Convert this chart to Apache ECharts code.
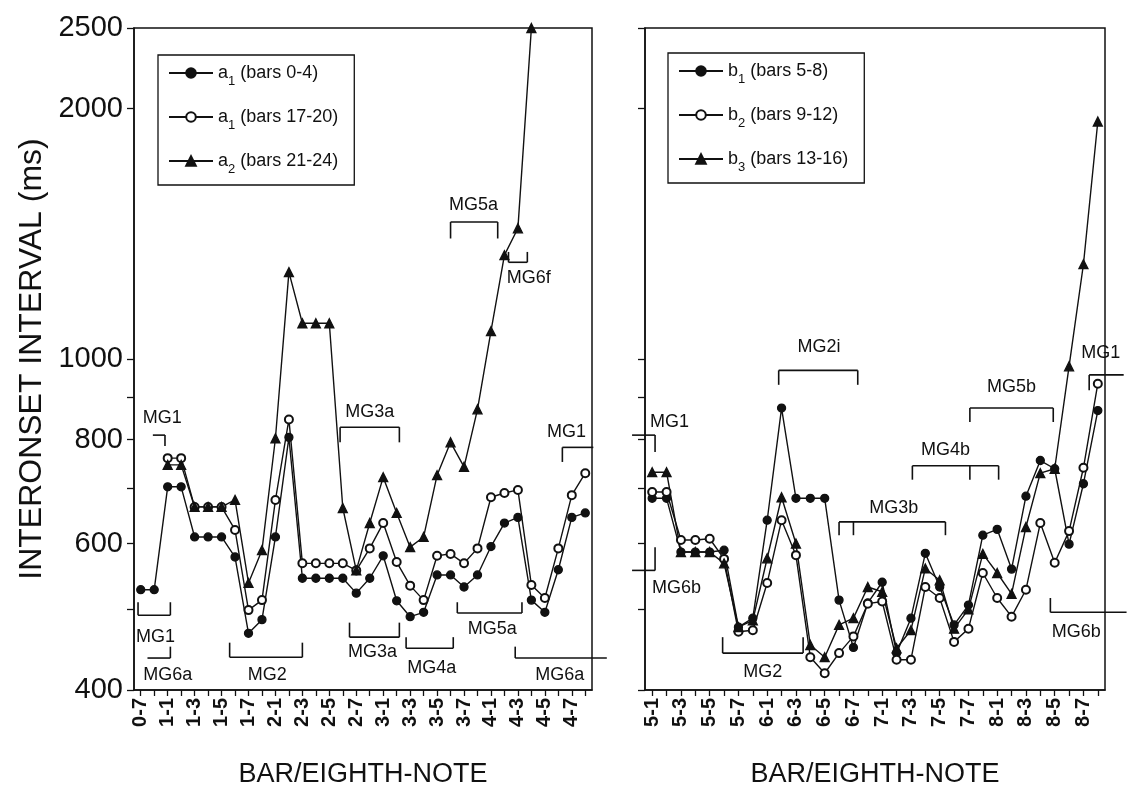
<!DOCTYPE html>
<html>
<head>
<meta charset="utf-8">
<script src="https://cdn.jsdelivr.net/npm/echarts@6/dist/echarts.min.js"></script>
<style>
  html, body { margin: 0; padding: 0; background: #fff; }
  #chart { width: 1129px; height: 789px; }
</style>
</head>
<body>
<div id="chart"></div>
<script>
// ---- categories (bar-eighth note positions) ----
const catsA = ['0-7','0-8',
  '1-1','1-2','1-3','1-4','1-5','1-6','1-7','1-8',
  '2-1','2-2','2-3','2-4','2-5','2-6','2-7','2-8',
  '3-1','3-2','3-3','3-4','3-5','3-6','3-7','3-8',
  '4-1','4-2','4-3','4-4','4-5','4-6','4-7','4-8'];
const catsB = ['5-1','5-2','5-3','5-4','5-5','5-6','5-7','5-8',
  '6-1','6-2','6-3','6-4','6-5','6-6','6-7','6-8',
  '7-1','7-2','7-3','7-4','7-5','7-6','7-7','7-8',
  '8-1','8-2','8-3','8-4','8-5','8-6','8-7','8-8'];

// ---- interonset intervals (ms) ----
const a1Bars0to4 = [528, 528,
  702, 702, 611, 611, 611, 578, 468, 486,
  611, 805, 545, 545, 545, 545, 523, 545,
  580, 512, 490, 496, 550, 550, 532, 550,
  595, 635, 645, 513, 496, 558, 645, 653];
const a1Bars17to20 = ['-', '-',
  760, 760, 664, 664, 664, 623, 499, 513,
  677, 846, 568, 568, 568, 568, 557, 592,
  635, 570, 534, 513, 580, 583, 568, 592,
  682, 690, 696, 535, 516, 592, 686, 729];
const a2Bars21to24 = ['-', '-',
  746, 746, 664, 664, 664, 677, 538, 589,
  803, 1272, 1104, 1104, 1104, 662, 557, 635,
  721, 653, 594, 611, 725, 794, 742, 870,
  1080, 1333, 1436, 2500, '-', '-', '-', '-'];

const b1Bars5to8 = [680, 680, 586, 586, 586, 589, 476, 488,
  640, 873, 680, 680, 680, 513, 450, 509,
  539, 443, 488, 584, 532, 479, 506, 614,
  624, 559, 684, 755, 738, 599, 708, 867];
const b2Bars9to12 = [692, 692, 606, 606, 608, 575, 470, 472,
  538, 640, 581, 438, 419, 443, 464, 508,
  511, 435, 435, 532, 516, 457, 474, 553,
  516, 490, 528, 635, 569, 621, 740, 934];
const b3Bars13to16 = [731, 731, 586, 586, 586, 568, 476, 485,
  576, 682, 600, 453, 438, 479, 488, 532,
  525, 449, 472, 560, 542, 474, 500, 583,
  553, 522, 628, 729, 738, 980, 1300, 1930];

// ---- axis ticks ----
const yTickValues = [400, 500, 600, 700, 800, 900, 1000, 2000, 2500];
const yLabelValues = [400, 600, 800, 1000, 2000, 2500];

// ---- melodic-gesture brackets: x in category index units, y in ms ----
const gesturesA = [
  { label: 'MG1',  x1: 0.9,  x2: 1.8,  y: 810,  ticks: [1.8],        tickTo: 786, lx: 1.6,  ly: 850 },
  { label: 'MG1',  x1: -0.2, x2: 2.2,  y: 492,  ticks: [-0.2, 2.2],  tickTo: 510, lx: 1.1,  ly: 463 },
  { label: 'MG6a', x1: 0.5,  x2: 2.2,  y: 437,  ticks: [2.2],        tickTo: 451, lx: 2.0,  ly: 417 },
  { label: 'MG2',  x1: 6.6,  x2: 12.0, y: 438,  ticks: [6.6, 12.0],  tickTo: 456, lx: 9.4,  ly: 417 },
  { label: 'MG3a', x1: 14.8, x2: 19.2, y: 828,  ticks: [14.8, 19.2], tickTo: 794, lx: 17.0, ly: 863 },
  { label: 'MG3a', x1: 15.5, x2: 19.2, y: 463,  ticks: [15.5, 19.2], tickTo: 482, lx: 17.2, ly: 444 },
  { label: 'MG4a', x1: 19.7, x2: 23.2, y: 449,  ticks: [19.7, 23.2], tickTo: 463, lx: 21.6, ly: 425 },
  { label: 'MG5a', x1: 23.5, x2: 28.3, y: 495,  ticks: [23.5, 28.3], tickTo: 510, lx: 26.1, ly: 474 },
  { label: 'MG6a', x1: 27.8, x2: 34.6, y: 437,  ticks: [27.8],       tickTo: 451, lx: 31.1, ly: 417 },
  { label: 'MG5a', x1: 23.0, x2: 26.5, y: 1461, ticks: [23.0, 26.5], tickTo: 1396, lx: 24.7, ly: 1533 },
  { label: 'MG6f', x1: 27.3, x2: 28.7, y: 1307, ticks: [27.3, 28.7], tickTo: 1345, lx: 28.8, ly: 1250 },
  { label: 'MG1',  x1: 31.3, x2: 33.6, y: 783,  ticks: [31.3],       tickTo: 752, lx: 31.6, ly: 817 }
];
const gesturesB = [
  { label: 'MG1',  x1: -1.4, x2: 0.2,  y: 810,  ticks: [0.2],        tickTo: 773, lx: 1.2,  ly: 840 },
  { label: 'MG6b', x1: -1.4, x2: 0.2,  y: 557,  ticks: [0.2],        tickTo: 594, lx: 1.7,  ly: 530 },
  { label: 'MG2',  x1: 4.9,  x2: 10.5, y: 443,  ticks: [4.9, 10.5],  tickTo: 463, lx: 7.7,  ly: 420 },
  { label: 'MG2i', x1: 8.8,  x2: 14.3, y: 969,  ticks: [8.8, 14.3],  tickTo: 931, lx: 11.6, ly: 1034 },
  { label: 'MG3b', x1: 13.0, x2: 20.4, y: 637,  ticks: [13.0, 14.0, 20.4], tickTo: 614, lx: 16.8, ly: 662 },
  { label: 'MG4b', x1: 18.1, x2: 24.1, y: 744,  ticks: [18.1, 22.1, 24.1], tickTo: 716, lx: 20.4, ly: 777 },
  { label: 'MG5b', x1: 22.1, x2: 27.9, y: 873,  ticks: [22.1, 27.9], tickTo: 840, lx: 25.0, ly: 925 },
  { label: 'MG6b', x1: 27.7, x2: 33.0, y: 496,  ticks: [27.7],       tickTo: 516, lx: 29.5, ly: 470 },
  { label: 'MG1',  x1: 30.4, x2: 32.8, y: 957,  ticks: [30.4],       tickTo: 917, lx: 31.2, ly: 1016 }
];

const INK = '#111';
const FONT = '"Liberation Sans", Arial, Helvetica, sans-serif';

function lineSeries(name, data, symbol, axis) {
  return {
    name, type: 'line', data,
    xAxisIndex: axis, yAxisIndex: axis,
    symbol, symbolSize: symbol === 'triangle' ? 9 : 8,
    showAllSymbol: true,
    lineStyle: { color: INK, width: 1.4 },
    itemStyle: { color: INK, borderColor: INK, borderWidth: 1.3 },
    emphasis: { disabled: true },
    connectNulls: false,
    z: 3
  };
}

function gestureSeries(list, axis) {
  return {
    type: 'custom', xAxisIndex: axis, yAxisIndex: axis,
    clip: false, silent: true, z: 4,
    data: list.map((g, i) => [i, g.y]),
    renderItem(params, api) {
      const g = list[params.dataIndex];
      // interpolate between category slots so fractional positions work
      const pt = (x, y) => {
        const a = api.coord([0, y]);
        const b = api.coord([1, y]);
        return [a[0] + (b[0] - a[0]) * x, a[1]];
      };
      const stroke = { stroke: INK, lineWidth: 1.6 };
      const h1 = pt(g.x1, g.y), h2 = pt(g.x2, g.y);
      const children = [{ type: 'line', shape: { x1: h1[0], y1: h1[1], x2: h2[0], y2: h2[1] }, style: stroke }];
      g.ticks.forEach(tx => {
        const p = pt(tx, g.y), q = pt(tx, g.tickTo);
        children.push({ type: 'line', shape: { x1: p[0], y1: p[1], x2: q[0], y2: q[1] }, style: stroke });
      });
      const lp = pt(g.lx, g.ly);
      children.push({
        type: 'text', x: lp[0], y: lp[1],
        style: { text: g.label, fontSize: 18, fontFamily: FONT, fill: INK, align: 'center', verticalAlign: 'middle' }
      });
      return { type: 'group', children };
    }
  };
}

function xAxis(idx, cats) {
  return {
    type: 'category', gridIndex: idx, data: cats, boundaryGap: true,
    name: 'BAR/EIGHTH-NOTE', nameLocation: 'middle', nameGap: 71,
    nameTextStyle: { fontSize: 27, color: INK, fontFamily: FONT },
    axisLine: { show: true, onZero: false, lineStyle: { color: INK, width: 1.5 } },
    axisTick: { show: true, alignWithLabel: true, interval: 0, length: 6, lineStyle: { color: INK, width: 1.3 } },
    axisLabel: { interval: 1, rotate: 90, fontSize: 20, fontWeight: 'bold', color: INK, fontFamily: FONT, margin: 8 },
    splitLine: { show: false }
  };
}

function yAxis(idx, withLabels) {
  return {
    type: 'log', gridIndex: idx, logBase: 10, min: 400, max: 2500,
    name: withLabels ? 'INTERONSET INTERVAL (ms)' : '',
    nameLocation: 'middle', nameGap: 86,
    nameTextStyle: { fontSize: 32, color: INK, fontFamily: FONT },
    axisLine: { show: true, lineStyle: { color: INK, width: 1.5 } },
    axisTick: { show: true, length: 7, customValues: yTickValues, lineStyle: { color: INK, width: 1.3 } },
    axisLabel: {
      show: withLabels, customValues: yLabelValues, fontSize: 29, color: INK, fontFamily: FONT, margin: 11,
      formatter: v => String(Math.round(v))
    },
    minorTick: { show: false },
    splitLine: { show: false }
  };
}

function legend(names, left, top) {
  return {
    data: names, orient: 'vertical', left, top,
    backgroundColor: '#fff', borderColor: INK, borderWidth: 1.3,
    padding: [9, 16, 9, 10], itemGap: 20, itemWidth: 44, itemHeight: 12,
    selectedMode: false,
    formatter(name) {
      const m = name.match(/^([ab])(\d) (.*)$/);
      return '{n|' + m[1] + '}{s|' + m[2] + '}{n| ' + m[3] + '}';
    },
    textStyle: {
      color: INK, fontFamily: FONT,
      rich: {
        n: { fontSize: 18, fontFamily: FONT, color: INK, lineHeight: 30, verticalAlign: 'middle' },
        s: { fontSize: 13, fontFamily: FONT, color: INK, lineHeight: 30, verticalAlign: 'bottom' }
      }
    }
  };
}

const chart = echarts.init(document.getElementById('chart'), null, { renderer: 'canvas' });
chart.setOption({
  animation: false,
  backgroundColor: '#fff',
  textStyle: { fontFamily: FONT },
  grid: [
    { left: 134, top: 28, width: 458, height: 662, show: true, borderColor: INK, borderWidth: 1.5, outerBoundsMode: 'none', containLabel: false },
    { left: 645, top: 28, width: 460, height: 662, show: true, borderColor: INK, borderWidth: 1.5, outerBoundsMode: 'none', containLabel: false }
  ],
  xAxis: [xAxis(0, catsA), xAxis(1, catsB)],
  yAxis: [yAxis(0, true), yAxis(1, false)],
  legend: [
    legend(['a1 (bars 0-4)', 'a1 (bars 17-20)', 'a2 (bars 21-24)'], 158, 55),
    legend(['b1 (bars 5-8)', 'b2 (bars 9-12)', 'b3 (bars 13-16)'], 668, 53)
  ],
  series: [
    lineSeries('a1 (bars 0-4)', a1Bars0to4, 'circle', 0),
    lineSeries('a1 (bars 17-20)', a1Bars17to20, 'emptyCircle', 0),
    lineSeries('a2 (bars 21-24)', a2Bars21to24, 'triangle', 0),
    lineSeries('b1 (bars 5-8)', b1Bars5to8, 'circle', 1),
    lineSeries('b2 (bars 9-12)', b2Bars9to12, 'emptyCircle', 1),
    lineSeries('b3 (bars 13-16)', b3Bars13to16, 'triangle', 1),
    gestureSeries(gesturesA, 0),
    gestureSeries(gesturesB, 1)
  ]
});
</script>
</body>
</html>
